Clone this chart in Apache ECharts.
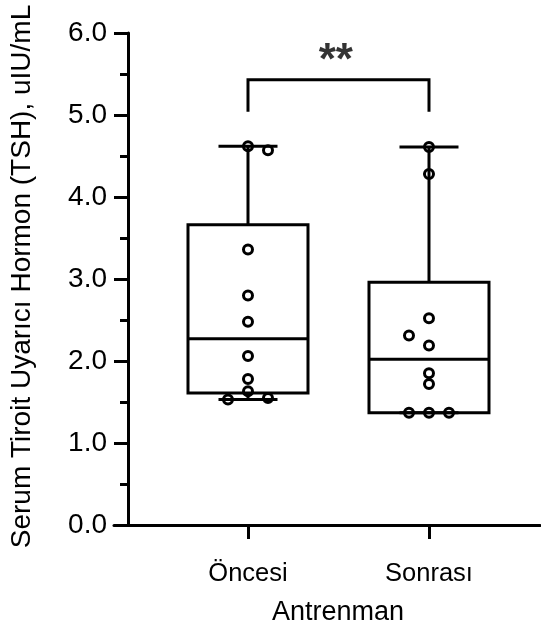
<!DOCTYPE html>
<html><head><meta charset="utf-8">
<script src="https://cdn.jsdelivr.net/npm/echarts@6/dist/echarts.min.js"></script>
<style>html,body{margin:0;padding:0;background:#fff}#c{width:541px;height:628px}</style>
</head><body><div id="c"></div>
<script>
// ---------- data ----------
const categories = ['Öncesi', 'Sonrası'];
const oncesiValues = [4.62, 4.57, 3.36, 2.80, 2.48, 2.06, 1.78, 1.63, 1.55, 1.53];
const sonrasiValues = [4.61, 4.28, 2.52, 2.19, 2.31, 1.85, 1.72, 1.37, 1.37, 1.37];
const yTickValues = [0, 1, 2, 3, 4, 5, 6];
const yAxisTitle = 'Serum Tiroit Uyarıcı Hormon (TSH), uIU/mL';
const xAxisTitle = 'Antrenman';
const significanceLabel = '**';

// ---------- layout / style constants ----------
const FONT = 'Arial, "Liberation Sans", sans-serif';
const X_MIN = 0.2597, X_MAX = 2.6133;
const BOX_WIDTH = 0.663, CAP_WIDTH = 0.326;
const BRACKET_LOW = 5.04, BRACKET_HIGH = 5.43, STAR_X = 1.485, STAR_Y = 5.65;
const SWARM_STEP_PX = 20, SWARM_MIN_DIST = 10;

const groups = [oncesiValues, sonrasiValues];
function quantile(sorted, p) {
  const n = sorted.length;
  let pos = (n + 1) * p;
  if (pos < 1) pos = 1;
  if (pos > n) pos = n;
  const lo = Math.floor(pos), frac = pos - lo;
  const a = sorted[lo - 1], b = sorted[Math.min(lo, n - 1)];
  return a + frac * (b - a);
}
const boxData = groups.map((g, i) => {
  const s = g.slice().sort((a, b) => a - b);
  return [i + 1, s[0], quantile(s, 0.25), quantile(s, 0.5), quantile(s, 0.75), s[s.length - 1]];
});

function renderBox(params, api) {
  const x = api.value(0);
  const pMin = api.coord([x, api.value(1)]);
  const pQ1 = api.coord([x, api.value(2)]);
  const pMed = api.coord([x, api.value(3)]);
  const pQ3 = api.coord([x, api.value(4)]);
  const pMax = api.coord([x, api.value(5)]);
  const bw = api.size([BOX_WIDTH, 0])[0];
  const cw = api.size([CAP_WIDTH, 0])[0];
  const cx = pMed[0];
  const st = { stroke: '#000', lineWidth: 3, fill: 'none', lineJoin: 'miter' };
  return { type: 'group', children: [
    { type: 'line', shape: { x1: cx, y1: pQ3[1], x2: cx, y2: pMax[1] }, style: st },
    { type: 'line', shape: { x1: cx, y1: pQ1[1], x2: cx, y2: pMin[1] }, style: st },
    { type: 'line', shape: { x1: cx - cw / 2, y1: pMax[1], x2: cx + cw / 2, y2: pMax[1] }, style: st },
    { type: 'line', shape: { x1: cx - cw / 2, y1: pMin[1], x2: cx + cw / 2, y2: pMin[1] }, style: st },
    { type: 'rect', shape: { x: cx - bw / 2, y: pQ3[1], width: bw, height: pQ1[1] - pQ3[1] }, style: st },
    { type: 'line', shape: { x1: cx - bw / 2, y1: pMed[1], x2: cx + bw / 2, y2: pMed[1] }, style: st }
  ]};
}

const chart = echarts.init(document.getElementById('c'), null, { renderer: 'canvas' });
const axisLine = { show: true, lineStyle: { color: '#000', width: 3 } };
chart.setOption({
  animation: false,
  backgroundColor: '#fff',
  grid: { left: 114, right: 1, top: 33, bottom: 103, containLabel: false, outerBoundsMode: 'none' },
  xAxis: {
    type: 'value', min: X_MIN, max: X_MAX,
    splitLine: { show: false },
    axisLine: axisLine,
    axisTick: { show: true, customValues: [1, 2], length: 14, lineStyle: { color: '#000', width: 3 } },
    axisLabel: { customValues: [1, 2], formatter: v => categories[Math.round(v) - 1],
      color: '#000', fontSize: 25.5, fontFamily: FONT, margin: 36 },
    name: xAxisTitle, nameLocation: 'middle', nameGap: 74,
    nameTextStyle: { color: '#000', fontSize: 27, fontFamily: FONT, padding: [0, 0, 0, 22] }
  },
  yAxis: {
    type: 'value', min: yTickValues[0], max: yTickValues[yTickValues.length - 1], interval: 1,
    offset: -14,
    splitLine: { show: false },
    axisLine: axisLine,
    axisTick: { show: true, length: 14, lineStyle: { color: '#000', width: 3 } },
    minorTick: { show: true, splitNumber: 2, length: 8, lineStyle: { color: '#000', width: 3 } },
    axisLabel: { formatter: v => v.toFixed(1), color: '#000', fontSize: 28, fontFamily: FONT, margin: 21 },
    name: yAxisTitle, nameLocation: 'middle', nameGap: 92,
    nameTextStyle: { color: '#000', fontSize: 28, fontFamily: FONT, padding: [0, 0, 0, 5] }
  },
  series: [
    { type: 'custom', renderItem: renderBox, data: boxData, encode: { x: 0, y: [1, 2, 3, 4, 5] }, z: 2, silent: true },
    { type: 'line', data: [[1, BRACKET_LOW], [1, BRACKET_HIGH], [2, BRACKET_HIGH], [2, BRACKET_LOW]],
      symbol: 'none', lineStyle: { color: '#000', width: 3, join: 'miter' }, z: 2, silent: true },
    { type: 'scatter', data: [[STAR_X, STAR_Y]], symbolSize: 0,
      label: { show: true, position: 'inside', formatter: significanceLabel, color: '#000',
        fontSize: 44, fontWeight: 'bold', fontFamily: FONT }, z: 4, silent: true }
  ]
});

// beeswarm layout of the points (through the axis scales)
const pts = [];
groups.forEach((g, gi) => {
  const pref = gi === 0 ? 1 : -1;
  const placed = [];
  g.forEach(v => {
    const p = chart.convertToPixel({ gridIndex: 0 }, [gi + 1, v]);
    const cands = [0, pref, -pref, 2 * pref, -2 * pref];
    let col = 0;
    for (const c of cands) {
      const ok = placed.every(q => Math.hypot((c - q.c) * SWARM_STEP_PX, p[1] - q.y) >= SWARM_MIN_DIST);
      if (ok) { col = c; break; }
    }
    placed.push({ c: col, y: p[1] });
    const xv = chart.convertFromPixel({ gridIndex: 0 }, [p[0] + col * SWARM_STEP_PX, p[1]])[0];
    pts.push([xv, v]);
  });
});
chart.setOption({ series: [{}, {}, {}, {
  type: 'scatter', data: pts, symbol: 'circle', symbolSize: 9,
  itemStyle: { color: 'rgba(0,0,0,0)', borderColor: '#000', borderWidth: 3, opacity: 1 }, z: 5, silent: true
}]});
</script></body></html>
